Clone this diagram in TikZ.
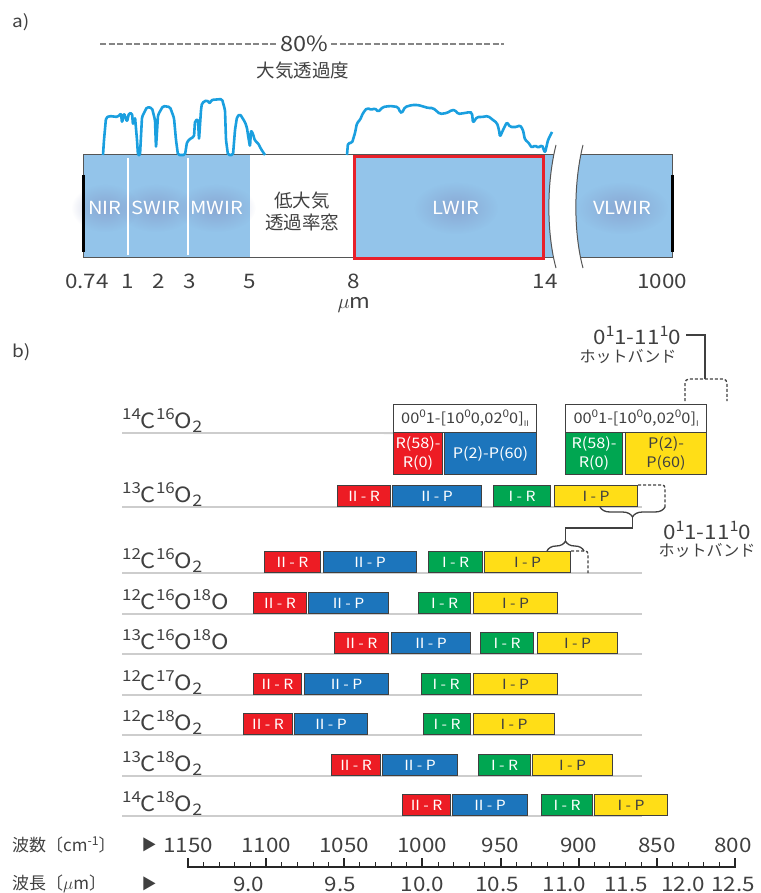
\documentclass[tikz,border=0pt]{standalone}
\usepackage{fontspec}
\usepackage{graphicx}
\setmainfont{Noto Sans CJK JP}[FakeStretch=1.12]
\newfontfamily\jp{Noto Sans CJK JP}
\usetikzlibrary{decorations.pathreplacing,fadings}

\definecolor{irblue}{HTML}{93C4EA}
\definecolor{curveblue}{HTML}{1A9FDF}
\definecolor{frameline}{HTML}{555555}
\definecolor{lwirred}{HTML}{E8202A}
\definecolor{bandred}{HTML}{ED1C24}
\definecolor{bandblue}{HTML}{1C75BC}
\definecolor{bandgreen}{HTML}{00A651}
\definecolor{bandyellow}{HTML}{FFDE17}
\definecolor{ink}{HTML}{404040}
\definecolor{rulegray}{HTML}{CDCDCD}
\definecolor{glowgray}{HTML}{8190C0}
\definecolor{dashgray}{HTML}{858585}

\tikzfading[name=softglow, inner color=transparent!0, outer color=transparent!100]

% raised and lowered indices in text
\newcommand\upn[1]{\raisebox{0.40em}{\scalebox{0.72}{#1}}}
\newcommand\dnn[1]{\raisebox{-0.22em}{\scalebox{0.76}{#1}}}

% one coloured band: name, left x, right x, base line y, style, text
\newcommand\band[6]{\node[bandbox,#5,minimum width={(#3)-(#2)}] (#1) at (#2,#4) {#6};}

\begin{document}
\begin{tikzpicture}[x=1pt,y=-1pt,
  txt/.style={inner sep=0pt, text=ink},
  fs/.style={font=\fontsize{#1}{#1}\selectfont},
  bandtxt/.style={txt, text=white, fs=18},
  bandbox/.style={draw=ink, line width=1.1pt, inner sep=0pt, minimum height=21pt,
    anchor=south west, text=white, font=\fontsize{14}{14}\selectfont},
  redbar/.style={fill=bandred},
  bluebar/.style={fill=bandblue},
  greenbar/.style={fill=bandgreen},
  yellowbar/.style={fill=bandyellow, text=ink},
  bigbox/.style={draw=ink, line width=1.1pt, inner sep=0pt, anchor=north west,
    align=center, font=\fontsize{14.5}{19}\selectfont},
  headbox/.style={draw=ink, line width=1.1pt, fill=white, inner sep=0pt, anchor=north west,
    minimum height=28pt, text=ink, font=\fontsize{14.6}{14.6}\selectfont},
  molabel/.style={txt, anchor=base west, fs=21},
  rowrule/.style={rulegray, line width=1.8pt},
  hotline/.style={ink, line width=1.3pt},
  hotdash/.style={ink, line width=1.3pt, dash pattern=on 3pt off 2pt},
  glow/.style={glowgray, path fading=softglow, fill opacity=0.55},
]
\useasboundingbox (0,0) rectangle (760,893);

% ---------------- a) infrared bands ----------------
\node[txt, fs=17, anchor=west] (la) at (12,22) {a)};

\node[txt, fs=21] (pct) at (304,44) {80\%};
\coordinate (dashL) at (100,44);
\coordinate (dashR) at (504,44);
\draw[dashgray, line width=2.4pt, dash pattern=on 6pt off 2.5pt] (dashL) -- ([xshift=-3pt]pct.west);
\draw[dashgray, line width=2.4pt, dash pattern=on 6pt off 2.5pt] ([xshift=3pt]pct.east) -- (dashR);
\node[txt, font=\jp\fontsize{18.5}{18.5}\selectfont] (trans) at (303,71) {大気透過度};

% blue band regions of the bar
\fill[irblue] (83,155) rectangle (250,257);
\begin{scope}
  \clip (300,130) -- (556,130) -- (556,145) .. controls (546,185) and (547,235) .. (556,268) -- (556,280) -- (300,280) -- cycle;
  \fill[irblue] (353,155) rectangle (600,257);
  \draw[frameline, line width=1pt] (83,155) -- (600,155) (83,257) -- (600,257);
\end{scope}
\begin{scope}
  \clip (583,130) -- (583,145) .. controls (573,185) and (574,235) .. (583,268) -- (583,280) -- (700,280) -- (700,130) -- cycle;
  \fill[irblue] (560,155) rectangle (672,257);
  \draw[frameline, line width=1pt] (560,155) -- (672,155) -- (672,257) -- (560,257);
\end{scope}
\draw[frameline, line width=1pt] (353,155) -- (83,155) -- (83,257) -- (353,257);

% soft halos behind the band names
\fill[glow] (105,208) ellipse (34 and 24);
\fill[glow] (156,208) ellipse (38 and 24);
\fill[glow] (216,208) ellipse (40 and 24);
\fill[glow] (456,208) ellipse (42 and 26);
\fill[glow] (622,208) ellipse (46 and 26);

% white separators between NIR, SWIR and MWIR
\draw[white, line width=2pt] (128,158) -- (128,255) (188,158) -- (188,255);

% break marks
\draw[frameline, line width=1pt] (556,145) .. controls (546,185) and (547,235) .. (556,268);
\draw[frameline, line width=1pt] (583,145) .. controls (573,185) and (574,235) .. (583,268);

% thick end marks
\draw[black, line width=3pt] (83,175) -- (83,252) (672,175) -- (672,252);

% LWIR frame
\node[draw=lwirred, line width=3pt, minimum width=189pt, minimum height=101pt, inner sep=0pt, anchor=north west] (lwir) at (353,155.5) {};

\node[bandtxt] (nir) at (105,208) {NIR};
\node[bandtxt] (swir) at (156,208) {SWIR};
\node[bandtxt] (mwir) at (217,208) {MWIR};
\node[bandtxt] (lwirt) at (456,208) {LWIR};
\node[bandtxt] (vlwir) at (622,208) {VLWIR};
\node[txt, align=center, font=\jp\fontsize{18.5}{22}\selectfont] (lowwin) at (302,211) {低大気\\透過率窓};

% atmospheric transmission curve
\draw[curveblue, line width=2.6pt, line join=round, rounded corners=1.5pt]
  (103,155) -- (104,140) -- (106,118) -- (109,116) -- (118,117) -- (121,113) -- (122,123) -- (124,113)
  -- (127,122) -- (129,113) -- (132,113) -- (133,125) -- (135,117) -- (137,140) -- (138,155)
  -- (140,155) -- (142,117) -- (147,107) -- (152,108) -- (155,120) -- (156,148) -- (158,115)
  -- (163,106) -- (170,107) -- (174,118) -- (176,140) -- (178,155) -- (185,155) -- (187,142)
  -- (191,138) -- (194,137) -- (195,121) -- (198,119) -- (199,140) -- (201,110) -- (202,103)
  -- (207,100) -- (210,104) -- (211,100) -- (222,99) -- (225,110) -- (226,140) -- (228,155)
  -- (233,155) -- (235,130) -- (237,117) -- (240,114) -- (243,119) -- (245,122) -- (247,128)
  -- (248,135) -- (250,147) -- (251,130) -- (253,134) -- (255,141) -- (258,143) -- (261,149) -- (265,155);
\draw[curveblue, line width=2.6pt, line join=round, rounded corners=1.5pt]
  (347,155) -- (348,143) -- (352,143) -- (355,133) -- (357,123) -- (360,120) -- (363,113) -- (367,108)
  -- (372,110) -- (375,108) -- (378,112) -- (383,107) -- (390,106) -- (398,107) -- (400,112) -- (402,113)
  -- (405,107) -- (412,105) -- (418,105) -- (425,107) -- (428,108) -- (433,108) -- (440,114) -- (447,113)
  -- (452,110) -- (455,110) -- (458,114) -- (465,113) -- (470,112) -- (472,113) -- (473,123) -- (475,120)
  -- (477,117) -- (482,117) -- (488,116) -- (493,120) -- (497,123) -- (499,130) -- (500,137) -- (503,130)
  -- (505,126) -- (507,122) -- (510,127) -- (517,127) -- (520,125) -- (523,130) -- (525,140) -- (528,142)
  -- (532,148) -- (535,145) -- (538,148) -- (542,145) -- (545,153) -- (548,140) -- (552,132);

% wavelength marks
\node[txt, fs=20] (w074) at (87,281) {0.74};
\node[txt, fs=20] (w1) at (128,281) {1};
\node[txt, fs=20] (w2) at (159,281) {2};
\node[txt, fs=20] (w3) at (190,281) {3};
\node[txt, fs=20] (w5) at (250,281) {5};
\node[txt, fs=20] (w8) at (354,281) {8};
\node[txt, fs=20] (w14) at (545,281) {14};
\node[txt, fs=20] (w1000) at (662,281) {1000};
\node[txt, fs=20] (wunit) at (354,305) {$\mu$m};

% ---------------- b) CO2 laser bands ----------------
\node[txt, fs=17, anchor=west] (lb) at (12,352) {b)};

% 14C16O2 with full band description
\node[molabel] (m1) at (122,428) {\upn{14}C\upn{16}O\dnn{2}};
\node[headbox, minimum width=143pt] (h1a) at (393,404) {00\upn{0}1-[10\upn{0}0,02\upn{0}0]\dnn{\scalebox{0.7}{II}}};
\node[headbox, minimum width=141pt] (h1b) at (565,404) {00\upn{0}1-[10\upn{0}0,02\upn{0}0]\dnn{\scalebox{0.7}{I}}};
\draw[rowrule] (122,433) -- (h1a.south west);
\node[bigbox, fill=bandred, text=white, minimum width=49pt, minimum height=42pt] (b1a) at (393,432) {R(58)-\\R(0)};
\node[bigbox, fill=bandblue, text=white, minimum width=92pt, minimum height=42pt] (b1b) at (444,432) {P(2)-P(60)};
\node[bigbox, fill=bandgreen, text=white, minimum width=57pt, minimum height=42pt] (b1c) at (565,432) {R(58)-\\R(0)};
\node[bigbox, fill=bandyellow, text=ink, minimum width=81pt, minimum height=42pt] (b1d) at (625,432) {P(2)-\\P(60)};

% hot band of 14C16O2
\node[txt, fs=20] (hot1) at (637,335) {0\upn{1}1-11\upn{1}0};
\node[txt, font=\jp\fontsize{16}{16}\selectfont] (hot1k) at (628,357) {ホットバンド};
\coordinate (hot1j) at (705,379);
\draw[hotline] ([xshift=5pt]hot1.east) -| (hot1j);
\draw[hotdash, rounded corners=4pt] (685,401) |- (hot1j) -| (727,401);

% remaining isotopologues
\node[molabel] (m2) at (122,502) {\upn{13}C\upn{16}O\dnn{2}};
\draw[rowrule] (122,507) -- (642,507);
\band{r2a}{337}{390}{507}{redbar}{II - R}
\band{r2b}{392}{481}{507}{bluebar}{II - P}
\band{r2c}{493}{550}{507}{greenbar}{I - R}
\band{r2d}{554}{637}{507}{yellowbar}{I - P}

\node[molabel] (m3) at (122,568) {\upn{12}C\upn{16}O\dnn{2}};
\draw[rowrule] (122,573) -- (642,573);
\band{r3a}{264}{320}{573}{redbar}{II - R}
\band{r3b}{323}{416}{573}{bluebar}{II - P}
\band{r3c}{428}{482}{573}{greenbar}{I - R}
\band{r3d}{484}{570}{573}{yellowbar}{I - P}

\node[molabel] (m4) at (122,609) {\upn{12}C\upn{16}O\upn{18}O};
\draw[rowrule] (122,614) -- (642,614);
\band{r4a}{253}{306}{614}{redbar}{II - R}
\band{r4b}{308}{388}{614}{bluebar}{II - P}
\band{r4c}{418}{470}{614}{greenbar}{I - R}
\band{r4d}{473}{557}{614}{yellowbar}{I - P}

\node[molabel] (m5) at (122,649) {\upn{13}C\upn{16}O\upn{18}O};
\draw[rowrule] (122,654) -- (642,654);
\band{r5a}{334}{388}{654}{redbar}{II - R}
\band{r5b}{391}{470}{654}{bluebar}{II - P}
\band{r5c}{480}{533}{654}{greenbar}{I - R}
\band{r5d}{537}{617}{654}{yellowbar}{I - P}

\node[molabel] (m6) at (122,690) {\upn{12}C\upn{17}O\dnn{2}};
\draw[rowrule] (122,695) -- (642,695);
\band{r6a}{253}{301}{695}{redbar}{II - R}
\band{r6b}{304}{388}{695}{bluebar}{II - P}
\band{r6c}{421}{470}{695}{greenbar}{I - R}
\band{r6d}{473}{557}{695}{yellowbar}{I - P}

\node[molabel] (m7) at (122,730) {\upn{12}C\upn{18}O\dnn{2}};
\draw[rowrule] (122,735) -- (642,735);
\band{r7a}{243}{292}{735}{redbar}{II - R}
\band{r7b}{294}{367}{735}{bluebar}{II - P}
\band{r7c}{423}{470}{735}{greenbar}{I - R}
\band{r7d}{473}{554}{735}{yellowbar}{I - P}

\node[molabel] (m8) at (122,771) {\upn{13}C\upn{18}O\dnn{2}};
\draw[rowrule] (122,776) -- (642,776);
\band{r8a}{331}{380}{776}{redbar}{II - R}
\band{r8b}{382}{457}{776}{bluebar}{II - P}
\band{r8c}{478}{530}{776}{greenbar}{I - R}
\band{r8d}{532}{612}{776}{yellowbar}{I - P}

\node[molabel] (m9) at (122,811) {\upn{14}C\upn{18}O\dnn{2}};
\draw[rowrule] (122,816) -- (642,816);
\band{r9a}{402}{450}{816}{redbar}{II - R}
\band{r9b}{452}{527}{816}{bluebar}{II - P}
\band{r9c}{541}{592}{816}{greenbar}{I - R}
\band{r9d}{594}{667}{816}{yellowbar}{I - P}

% hot bands of 13C16O2 and 12C16O2
\coordinate (hot2e) at (665,507);
\coordinate (hot3e) at (588,573);
\draw[hotdash, rounded corners=3pt] (r2d.north east) -| (hot2e);
\draw[hotdash, rounded corners=3pt] (r3d.north east) -| (hot3e);
\draw[hotline, decorate, decoration={brace, amplitude=10pt}] (hot2e) -- (600,507);
\draw[hotline, decorate, decoration={brace, amplitude=10pt}] (547,551) -- (584,551);
\coordinate (br2tip) at (632.5,517);
\coordinate (br3tip) at (565.5,541);
\draw[hotline] (br2tip) -- ++(0,11) -| (br3tip);
\node[txt, fs=20] (hot2) at (707,530) {0\upn{1}1-11\upn{1}0};
\node[txt, font=\jp\fontsize{16}{16}\selectfont] (hot2k) at (707,551) {ホットバンド};

% ---------------- wavenumber / wavelength scale ----------------
\node[txt, anchor=west, font=\jp\fontsize{17}{17}\selectfont] (kname) at (12,845) {波数〔cm\upn{-1}〕};
\node[txt, anchor=west, font=\jp\fontsize{17}{17}\selectfont] (lname) at (12,884) {波長〔$\mu$m〕};
\node[txt, font=\jp\fontsize{15}{15}\selectfont] (karr) at (149,845) {▶};
\node[txt, font=\jp\fontsize{15}{15}\selectfont] (larr) at (149,884) {▶};

\coordinate (axL) at (188,867);
\coordinate (axR) at (735,867);
\draw[black!85, line width=2.6pt] ([xshift=-1.3pt]axL) -- ([xshift=1.3pt]axR);
\foreach \k in {0,...,35} {
  \pgfmathsetmacro\xx{188+15.62857*\k}
  \draw[black!85, line width=1pt] (\xx,867) -- (\xx,862);
}
\foreach \k in {0,...,7} {
  \pgfmathsetmacro\xx{188+78.142857*\k}
  \draw[black!85, line width=2pt] (\xx,867) -- (\xx,858);
}
\foreach \v/\x in {1150/188,1100/266.1,1050/344.3,1000/422.4,950/500.6,900/578.7,850/656.9,800/733}
  \node[txt, fs=20] at (\x,845) {\v};
\foreach \w/\x in {9.0/248.8,9.5/340.2,10.0/422.4,10.5/496.9,11.0/564.5,11.5/626.3,12.0/683,12.5/733}
  \node[txt, fs=20] at (\x,884) {\w};
\end{tikzpicture}
\end{document}
